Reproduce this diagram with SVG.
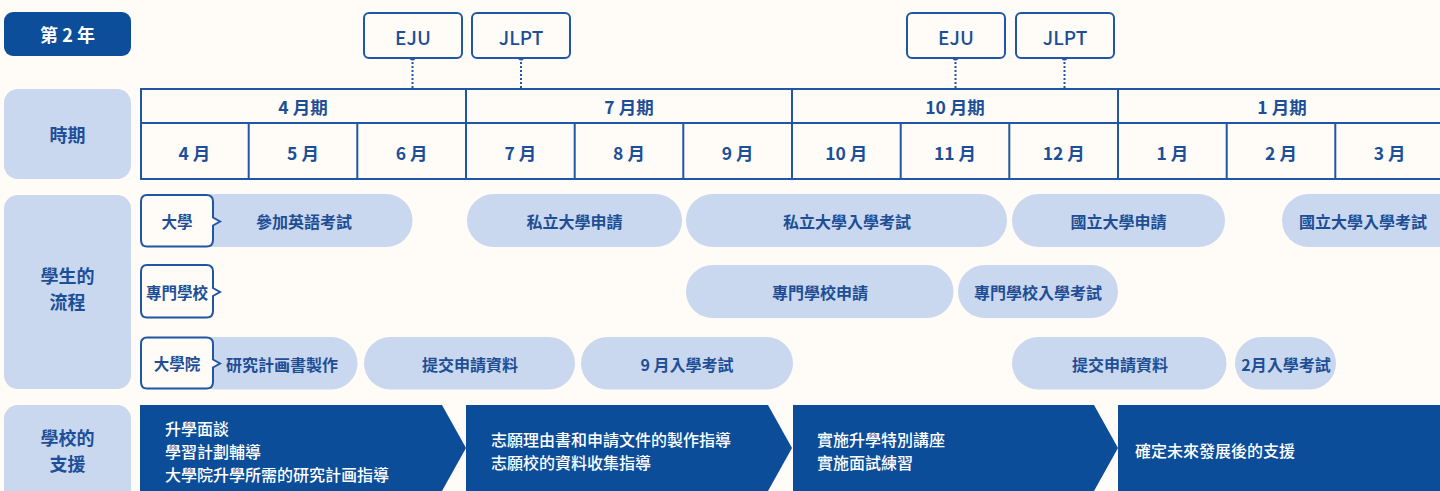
<svg xmlns="http://www.w3.org/2000/svg" width="1440" height="491" viewBox="0 0 1440 491">
<style>
text{font-family:"Noto Sans CJK TC","Noto Sans CJK JP","Noto Sans",sans-serif;font-weight:700;dominant-baseline:central}
.bg{fill:#FFFBF6}
.side{fill:#C9D8EF}
.sideT{fill:#1C4F98;font-size:18px;text-anchor:middle}
.badge{fill:#0D4E9A}
.badgeT{fill:#FFFFFF;font-size:18px;text-anchor:middle}
.exam{fill:#FFFBF6;stroke:#1F57A4;stroke-width:2}
.examT{fill:#1C4F98;font-size:19px;font-weight:500;text-anchor:middle}
.tl{stroke:#1F57A4;stroke-width:2;fill:none}
.hT{fill:#1C4F98;font-size:17.5px;text-anchor:middle}
.pill{fill:#C9D8EF}
.pillT{fill:#1E4E96;font-size:16px;text-anchor:middle}
.lab{fill:#FFFBF6;stroke:#1F57A4;stroke-width:2}
.labT{fill:#1E4E96;font-size:15.5px;text-anchor:middle}
.arr{fill:#0C4D9A}
.arrT{fill:#FFFFFF;font-size:16px;font-weight:500}
.dot{fill:#1F57A4}
.dash{stroke:#1F57A4;stroke-width:2;stroke-dasharray:2 2;fill:none}
</style>
<rect class="bg" x="0" y="0" width="1440" height="491"/>

<g id="badge-year">
<rect class="badge" x="4" y="12" width="127" height="44" rx="9"/>
<text class="badgeT" x="67.5" y="34">第 2 年</text>
</g>

<g id="side-period">
<rect class="side" x="4" y="89" width="127" height="90" rx="14"/>
<text class="sideT" x="67.5" y="134">時期</text>
</g>
<g id="side-flow">
<rect class="side" x="4" y="195" width="127" height="194" rx="14"/>
<text class="sideT" x="67.5" y="275">學生的</text>
<text class="sideT" x="67.5" y="301">流程</text>
</g>
<g id="side-support">
<rect class="side" x="4" y="405" width="127" height="100" rx="14"/>
<text class="sideT" x="67.5" y="437">學校的</text>
<text class="sideT" x="67.5" y="463">支援</text>
</g>

<g id="connectors">
<line class="dash" x1="412.5" y1="58" x2="412.5" y2="88"/>
<line class="dash" x1="521" y1="58" x2="521" y2="88"/>
<line class="dash" x1="955.5" y1="58" x2="955.5" y2="88"/>
<line class="dash" x1="1064.5" y1="58" x2="1064.5" y2="88"/>
<circle class="dot" cx="412.5" cy="57.5" r="3"/>
<circle class="dot" cx="521" cy="57.5" r="3"/>
<circle class="dot" cx="955.5" cy="57.5" r="3"/>
<circle class="dot" cx="1064.5" cy="57.5" r="3"/>
</g>

<g id="exam-eju-1"><rect class="exam" x="364" y="13" width="98" height="45" rx="5"/><text class="examT" x="413" y="36">EJU</text></g>
<g id="exam-jlpt-1"><rect class="exam" x="472" y="13" width="98" height="45" rx="5"/><text class="examT" x="521" y="36">JLPT</text></g>
<g id="exam-eju-2"><rect class="exam" x="907" y="13" width="98" height="45" rx="5"/><text class="examT" x="956" y="36">EJU</text></g>
<g id="exam-jlpt-2"><rect class="exam" x="1016" y="13" width="98" height="45" rx="5"/><text class="examT" x="1065" y="36">JLPT</text></g>

<g id="table">
<rect class="tl" x="141" y="89" width="1310" height="90"/>
<line class="tl" x1="141" y1="123" x2="1445" y2="123"/>
<line class="tl" x1="466" y1="88" x2="466" y2="179"/>
<line class="tl" x1="792" y1="88" x2="792" y2="179"/>
<line class="tl" x1="1118" y1="88" x2="1118" y2="179"/>
<line class="tl" x1="248.7" y1="123" x2="248.7" y2="179"/>
<line class="tl" x1="357.3" y1="123" x2="357.3" y2="179"/>
<line class="tl" x1="574.7" y1="123" x2="574.7" y2="179"/>
<line class="tl" x1="683.3" y1="123" x2="683.3" y2="179"/>
<line class="tl" x1="900.7" y1="123" x2="900.7" y2="179"/>
<line class="tl" x1="1009.3" y1="123" x2="1009.3" y2="179"/>
<line class="tl" x1="1226.7" y1="123" x2="1226.7" y2="179"/>
<line class="tl" x1="1335.3" y1="123" x2="1335.3" y2="179"/>
<text class="hT" x="303" y="106">4 月期</text>
<text class="hT" x="629" y="106">7 月期</text>
<text class="hT" x="955" y="106">10 月期</text>
<text class="hT" x="1282" y="106">1 月期</text>
<text class="hT" x="194.3" y="152">4 月</text>
<text class="hT" x="303" y="152">5 月</text>
<text class="hT" x="411.7" y="152">6 月</text>
<text class="hT" x="520.3" y="152">7 月</text>
<text class="hT" x="629" y="152">8 月</text>
<text class="hT" x="737.7" y="152">9 月</text>
<text class="hT" x="846.3" y="152">10 月</text>
<text class="hT" x="955" y="152">11 月</text>
<text class="hT" x="1063.7" y="152">12 月</text>
<text class="hT" x="1172.3" y="152">1 月</text>
<text class="hT" x="1281" y="152">2 月</text>
<text class="hT" x="1389.7" y="152">3 月</text>
</g>

<g id="pill-english"><rect class="pill" x="188" y="194" width="224.5" height="53" rx="26.5"/><text class="pillT" x="304" y="221">參加英語考試</text></g>
<g id="pill-private-apply"><rect class="pill" x="467" y="194" width="215" height="53" rx="26.5"/><text class="pillT" x="574.5" y="221">私立大學申請</text></g>
<g id="pill-private-exam"><rect class="pill" x="686" y="194" width="321" height="53" rx="26.5"/><text class="pillT" x="847" y="221">私立大學入學考試</text></g>
<g id="pill-national-apply"><rect class="pill" x="1012" y="194" width="213" height="53" rx="26.5"/><text class="pillT" x="1118.5" y="221">國立大學申請</text></g>
<g id="pill-national-exam"><rect class="pill" x="1282" y="194" width="190" height="53" rx="26.5"/><text class="pillT" x="1363" y="221">國立大學入學考試</text></g>

<g id="pill-voc-apply"><rect class="pill" x="686" y="265" width="267.5" height="53" rx="26.5"/><text class="pillT" x="820" y="292">專門學校申請</text></g>
<g id="pill-voc-exam"><rect class="pill" x="958" y="265" width="160" height="53" rx="26.5"/><text class="pillT" x="1038" y="292">專門學校入學考試</text></g>

<g id="pill-research"><rect class="pill" x="188" y="337" width="169.5" height="52.5" rx="26.25"/><text class="pillT" x="282" y="364">研究計画書製作</text></g>
<g id="pill-docs-1"><rect class="pill" x="364" y="337" width="211" height="52.5" rx="26.25"/><text class="pillT" x="470" y="364">提交申請資料</text></g>
<g id="pill-sep-exam"><rect class="pill" x="581" y="337" width="212" height="52.5" rx="26.25"/><text class="pillT" x="687" y="364">9 月入學考試</text></g>
<g id="pill-docs-2"><rect class="pill" x="1012" y="337" width="214.5" height="52.5" rx="26.25"/><text class="pillT" x="1120" y="364">提交申請資料</text></g>
<g id="pill-feb-exam"><rect class="pill" x="1235" y="337" width="101" height="52.5" rx="26.25"/><text class="pillT" x="1286" y="364">2月入學考試</text></g>

<g id="label-university">
<path class="lab" d="M147,195 H206.5 Q213,195 213,201.5 V217.5 L220,221.5 L213,225.5 V240 Q213,246.5 206.5,246.5 H147 Q141,246.5 141,240 V201.5 Q141,195 147,195 Z"/>
<text class="labT" x="177" y="221">大學</text>
</g>
<g id="label-vocational">
<path class="lab" d="M147,265 H206.5 Q213,265 213,271.5 V288 L220,292 L213,296 V311 Q213,317.5 206.5,317.5 H147 Q141,317.5 141,311 V271.5 Q141,265 147,265 Z"/>
<text class="labT" x="177" y="292">專門學校</text>
</g>
<g id="label-graduate">
<path class="lab" d="M147,337.5 H206.5 Q213,337.5 213,344 V359.5 L220,363.5 L213,367.5 V382 Q213,388.5 206.5,388.5 H147 Q141,388.5 141,382 V344 Q141,337.5 147,337.5 Z"/>
<text class="labT" x="177" y="363">大學院</text>
</g>

<g id="support-1">
<polygon class="arr" points="140,405 442,405 466,448 442,491 140,491"/>
<text class="arrT" x="165" y="428">升學面談</text>
<text class="arrT" x="165" y="451">學習計劃輔導</text>
<text class="arrT" x="165" y="474">大學院升學所需的研究計画指導</text>
</g>
<g id="support-2">
<polygon class="arr" points="466,405 768,405 792,448 768,491 466,491"/>
<text class="arrT" x="491" y="439">志願理由書和申請文件的製作指導</text>
<text class="arrT" x="491" y="462">志願校的資料收集指導</text>
</g>
<g id="support-3">
<polygon class="arr" points="793,405 1094,405 1118,448 1094,491 793,491"/>
<text class="arrT" x="817" y="439">實施升學特別講座</text>
<text class="arrT" x="817" y="462">實施面試練習</text>
</g>
<g id="support-4">
<polygon class="arr" points="1118,405 1440,405 1440,491 1118,491"/>
<text class="arrT" x="1135" y="450">確定未來發展後的支援</text>
</g>
</svg>
